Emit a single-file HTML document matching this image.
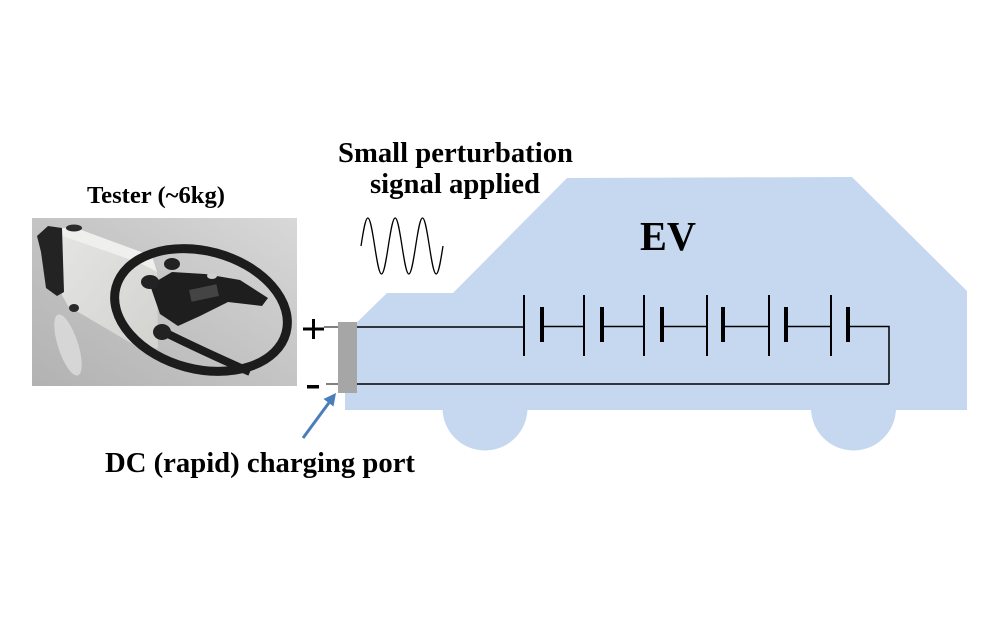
<!DOCTYPE html>
<html>
<head>
<meta charset="utf-8">
<style>
  html, body { margin: 0; padding: 0; background: #ffffff; }
  body { width: 1000px; height: 620px; overflow: hidden; }
  svg { display: block; }
  text { font-family: "Liberation Serif", "Times New Roman", serif; font-weight: bold; fill: #000; }
</style>
</head>
<body>
<svg width="1000" height="620" viewBox="0 0 1000 620" xmlns="http://www.w3.org/2000/svg">
  <defs>
    <linearGradient id="bg" x1="0" y1="1" x2="1" y2="0">
      <stop offset="0" stop-color="#b2b2b2"/>
      <stop offset="0.5" stop-color="#c4c4c4"/>
      <stop offset="1" stop-color="#d8d8d8"/>
    </linearGradient>
    <linearGradient id="boxg" x1="0" y1="0" x2="1" y2="1">
      <stop offset="0" stop-color="#e4e4e2"/>
      <stop offset="1" stop-color="#d2d2cf"/>
    </linearGradient>
    <clipPath id="photoclip">
      <rect x="32" y="218" width="265" height="168"/>
    </clipPath>
  </defs>

  <!-- Car body -->
  <polygon points="345,334 387,293 453,293 567,178 852,177 967,291 967,410 345,410" fill="#c6d8ef"/>
  <circle cx="485" cy="408" r="42.5" fill="#c6d8ef"/>
  <circle cx="853.5" cy="408" r="42.5" fill="#c6d8ef"/>

  <!-- Photo of tester -->
  <g clip-path="url(#photoclip)">
    <rect x="32" y="218" width="265" height="168" fill="url(#bg)"/>
    <!-- floor reflection -->
    <ellipse cx="68" cy="345" rx="10" ry="32" fill="#e2e2e2" opacity="0.7" transform="rotate(-18 68 345)"/>
    <!-- box front face -->
    <polygon points="62,236 140,263 157,272 158,348 146,352 68,306 62,295" fill="url(#boxg)"/>
    <!-- box top face -->
    <polygon points="60,228 76,228 152,256 157,272 140,263 62,236" fill="#efefed"/>
    <!-- black end cap -->
    <polygon points="37,236 48,226 62,228 64,292 57,296 46,288 41,252" fill="#232323"/>
    <ellipse cx="74" cy="228" rx="8" ry="3.5" fill="#2a2a2a"/>
    <ellipse cx="74" cy="308" rx="5" ry="4" fill="#2a2a2a"/>
    <!-- cable loop -->
    <ellipse cx="201" cy="310" rx="88" ry="59" transform="rotate(15 201 310)" fill="none" stroke="#1c1c1c" stroke-width="9"/>
    <!-- charger gun -->
    <path d="M150,285 L172,272 L205,274 L240,280 L268,298 L262,306 L228,302 L200,316 L178,326 L160,314 Z" fill="#1e1e1e"/>
    <ellipse cx="150" cy="282" rx="9" ry="7" fill="#222"/>
    <ellipse cx="172" cy="264" rx="8" ry="6" fill="#222"/>
    <rect x="190" y="287" width="28" height="12" fill="#444" transform="rotate(-12 204 293)"/>
    <ellipse cx="212" cy="276" rx="5" ry="3" fill="#cfcfcf"/>
    <!-- lower cable -->
    <path d="M160,330 Q200,350 250,372" fill="none" stroke="#1c1c1c" stroke-width="8"/>
    <ellipse cx="162" cy="332" rx="9" ry="8" fill="#222"/>
  </g>

  <!-- Circuit wires -->
  <g stroke="#000" fill="none">
    <line x1="324" y1="327" x2="338" y2="327" stroke-width="1"/>
    <line x1="326" y1="384" x2="338" y2="384" stroke-width="1"/>
    <line x1="357" y1="327" x2="524" y2="327" stroke-width="1.5"/>
    <line x1="357" y1="384" x2="889" y2="384" stroke-width="1.5"/>
    <polyline points="848,326.5 889,326.5 889,384" stroke-width="1.5"/>
    <line x1="542" y1="326.5" x2="584" y2="326.5" stroke-width="1.5"/>
    <line x1="602" y1="326.5" x2="644" y2="326.5" stroke-width="1.5"/>
    <line x1="662" y1="326.5" x2="707" y2="326.5" stroke-width="1.5"/>
    <line x1="723" y1="326.5" x2="769" y2="326.5" stroke-width="1.5"/>
    <line x1="786" y1="326.5" x2="831" y2="326.5" stroke-width="1.5"/>
    <g stroke-width="2">
      <line x1="524" y1="295" x2="524" y2="356"/>
      <line x1="584" y1="295" x2="584" y2="356"/>
      <line x1="644" y1="295" x2="644" y2="356"/>
      <line x1="707" y1="295" x2="707" y2="356"/>
      <line x1="769" y1="295" x2="769" y2="356"/>
      <line x1="831" y1="295" x2="831" y2="356"/>
    </g>
    <g stroke-width="4">
      <line x1="542" y1="307" x2="542" y2="342"/>
      <line x1="602" y1="307" x2="602" y2="342"/>
      <line x1="662" y1="307" x2="662" y2="342"/>
      <line x1="723" y1="307" x2="723" y2="342"/>
      <line x1="786" y1="307" x2="786" y2="342"/>
      <line x1="848" y1="307" x2="848" y2="342"/>
    </g>
  </g>

  <!-- Charging port -->
  <rect x="338" y="322" width="19" height="71" fill="#a6a6a6"/>

  <!-- plus / minus -->
  <rect x="303" y="327.5" width="21" height="3" fill="#000"/>
  <rect x="312" y="319" width="3" height="20" fill="#000"/>
  <rect x="307" y="385" width="12" height="3.5" fill="#000"/>

  <!-- Sine wave -->
  <path d="M361,246 C363.23,231.64 365.37,218 367.83,218 S372.44,231.64 374.67,246 S379.03,274 381.5,274 S386.10,260.36 388.33,246 S392.70,218 395.17,218 S399.77,231.64 402,246 S406.36,274 408.83,274 S413.44,260.36 415.67,246 S420.03,218 422.5,218 S427.10,231.64 429.33,246 S433.70,274 436.17,274 S440.77,260.36 443,246" fill="none" stroke="#000" stroke-width="1.3"/>

  <!-- Blue arrow -->
  <line x1="303" y1="438" x2="329.5" y2="402" stroke="#4a7ebb" stroke-width="3"/>
  <polygon points="336,393 333.5,406.5 323.5,399" fill="#4a7ebb"/>

  <!-- Texts -->
  <text x="338" y="162" font-size="28" textLength="235" lengthAdjust="spacingAndGlyphs">Small perturbation</text>
  <text x="370" y="193" font-size="28" textLength="170" lengthAdjust="spacingAndGlyphs">signal applied</text>
  <text x="640" y="250" font-size="41" textLength="56" lengthAdjust="spacingAndGlyphs">EV</text>
  <text x="87" y="203" font-size="24" textLength="138" lengthAdjust="spacingAndGlyphs">Tester (~6kg)</text>
  <text x="105" y="472" font-size="29" textLength="310" lengthAdjust="spacingAndGlyphs">DC (rapid) charging port</text>
</svg>
</body>
</html>
